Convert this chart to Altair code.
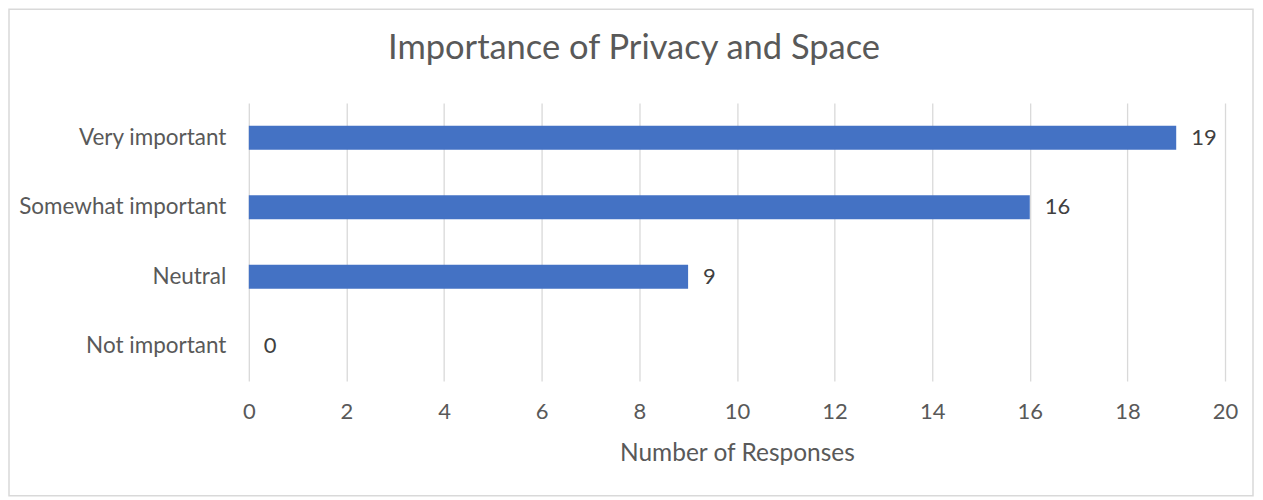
import altair as alt
import pandas as pd

categories = ["Very important", "Somewhat important", "Neutral", "Not important"]
responses = [19, 16, 9, 0]
x_ticks = [0, 2, 4, 6, 8, 10, 12, 14, 16, 18, 20]

df = pd.DataFrame({"Category": categories, "Responses": responses})

W, H = 977, 278
FONT = "Lato"

y_enc = alt.Y("Category:N", sort=categories, title=None,
              scale=alt.Scale(paddingInner=0.0, paddingOuter=0.0),
              axis=alt.Axis(labelFontSize=22.5, labelColor="#595959", labelFont=FONT,
                            labelPadding=23, ticks=False, domain=False, grid=False,
                            labelLimit=300))
x_enc = alt.X("Responses:Q", title="Number of Responses",
              scale=alt.Scale(domain=[0, 20], nice=False),
              axis=alt.Axis(values=x_ticks, labelFontSize=22, labelColor="#595959",
                            labelFont=FONT, labelPadding=21, labelFlush=False,
                            ticks=False, domain=False,
                            grid=True, gridColor="#d9d9d9", gridWidth=1.3,
                            titleFontSize=24.5, titleColor="#595959", titleFont=FONT,
                            titleFontWeight="normal", titlePadding=19))

bars = alt.Chart(df).mark_bar(color="#4472C4", size=24).encode(x=x_enc, y=y_enc)
labels = alt.Chart(df).mark_text(align="left", dx=15, fontSize=22, color="#404040",
                                 font=FONT).encode(
    x=alt.X("Responses:Q"), y=alt.Y("Category:N", sort=categories), text="Responses:Q")

border = alt.Chart(pd.DataFrame({"b": [0]})).mark_rect(
    fill=None, stroke="#d9d9d9", strokeWidth=1.5).encode(
    x=alt.value(-240), x2=alt.value(W + 28), y=alt.value(-94), y2=alt.value(H + 115))

chart = alt.layer(border, bars, labels).properties(
    width=W, height=H,
    background="white",
    autosize=alt.AutoSizeParams(type="none"),
    padding={"left": 241, "top": 95, "right": 30, "bottom": 117},
    title=alt.TitleParams("Importance of Privacy and Space", fontSize=34.5,
                          font=FONT, fontWeight="normal", color="#595959",
                          anchor="middle", frame="group", baseline="alphabetic",
                          offset=0, dy=85, dx=-103),
).configure_view(stroke=None, strokeWidth=0)

chart.save("out.html", embed_options={"renderer": "svg", "actions": False})
